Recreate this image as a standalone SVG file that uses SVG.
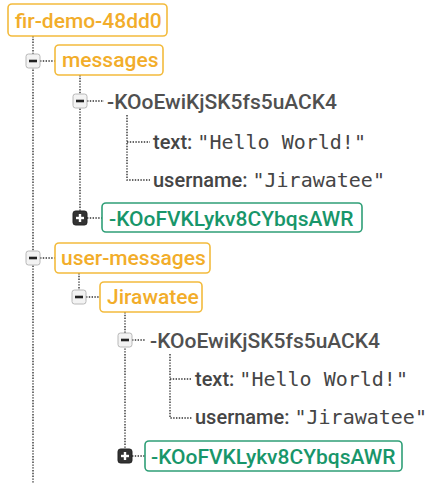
<svg xmlns="http://www.w3.org/2000/svg" width="430" height="483" viewBox="0 0 430 483">
<style>
.bg{fill:#fff}
.obox{fill:#fff;stroke:#f3bb3d;stroke-width:1.6}
.gbox{fill:#fff;stroke:#2f9f77;stroke-width:1.6}
.otxt{font-family:Roboto,"Liberation Sans",sans-serif;font-size:21px;font-weight:500;fill:#f2ad2a}
.gtxt{font-family:Roboto,"Liberation Sans",sans-serif;font-size:21px;font-weight:500;fill:#18966a}
.ktxt{font-family:Roboto,"Liberation Sans",sans-serif;font-size:21px;font-weight:500;fill:#505050}
.lbl{font-family:Roboto,"Liberation Sans",sans-serif;font-size:20px;font-weight:500;fill:#454545}
.val{font-family:"DejaVu Sans Mono","Liberation Mono",monospace;font-size:20px;fill:#454545}
.dot{fill:none;stroke:#333;stroke-width:1.4;stroke-dasharray:1.4 1.4}
.minus{fill:#f3f3f3;stroke:#b8b8b8;stroke-width:1}
.plus{fill:#333;stroke:#222;stroke-width:1}
</style>
<rect class="bg" x="0" y="0" width="430" height="483"/>
<defs>
<g id="mi"><rect class="minus" x="-7" y="-7" width="14" height="14" rx="2.5"/><rect x="-4" y="-1.3" width="8" height="2.6" fill="#222"/></g>
<g id="pl"><rect class="plus" x="-7" y="-7" width="14" height="14" rx="2.5"/><rect x="-4" y="-1.2" width="8" height="2.4" fill="#fff"/><rect x="-1.2" y="-4" width="2.4" height="8" fill="#fff"/></g>
</defs>
<g id="connectors">
<path class="dot" d="M33 36V483"/>
<path class="dot" d="M40 61H55"/>
<path class="dot" d="M80 75V218"/>
<path class="dot" d="M87 101H104"/>
<path class="dot" d="M127 115V180H150M127 142H150"/>
<path class="dot" d="M87 218H102"/>
<path class="dot" d="M40 258H55"/>
<path class="dot" d="M79 273V297"/>
<path class="dot" d="M86 297H100"/>
<path class="dot" d="M125 312V456"/>
<path class="dot" d="M132 340H146"/>
<path class="dot" d="M170 354V418H192M170 379H192"/>
<path class="dot" d="M132 456H145"/>
</g>
<g id="root"><rect class="obox" x="8" y="4" width="159" height="32" rx="4"/><text class="otxt" x="15" y="28">fir-demo-48dd0</text></g>
<g id="messages"><use href="#mi" x="33" y="61"/><rect class="obox" x="55" y="45" width="108" height="30" rx="4"/><text class="otxt" x="62" y="67">messages</text></g>
<g id="key1"><use href="#mi" x="80" y="101"/><text class="ktxt" x="107" y="109">-KOoEwiKjSK5fs5uACK4</text></g>
<g id="text1"><text x="153" y="149"><tspan class="lbl">text: </tspan><tspan class="val">"Hello World!"</tspan></text></g>
<g id="username1"><text x="153" y="187"><tspan class="lbl">username: </tspan><tspan class="val">"Jirawatee"</tspan></text></g>
<g id="key2"><use href="#pl" x="80" y="218"/><rect class="gbox" x="102" y="203" width="260" height="29" rx="4"/><text class="gtxt" x="109" y="226">-KOoFVKLykv8CYbqsAWR</text></g>
<g id="user-messages"><use href="#mi" x="33" y="258"/><rect class="obox" x="55" y="243" width="155" height="30" rx="4"/><text class="otxt" x="61" y="265">user-messages</text></g>
<g id="jirawatee"><use href="#mi" x="79" y="297"/><rect class="obox" x="100" y="282" width="102" height="30" rx="4"/><text class="otxt" x="107" y="304">Jirawatee</text></g>
<g id="key3"><use href="#mi" x="125" y="340"/><text class="ktxt" x="150" y="348">-KOoEwiKjSK5fs5uACK4</text></g>
<g id="text2"><text x="195" y="386"><tspan class="lbl">text: </tspan><tspan class="val">"Hello World!"</tspan></text></g>
<g id="username2"><text x="195" y="424"><tspan class="lbl">username: </tspan><tspan class="val">"Jirawatee"</tspan></text></g>
<g id="key4"><use href="#pl" x="125" y="456"/><rect class="gbox" x="145" y="441" width="257" height="30" rx="4"/><text class="gtxt" x="151" y="464">-KOoFVKLykv8CYbqsAWR</text></g>
</svg>
